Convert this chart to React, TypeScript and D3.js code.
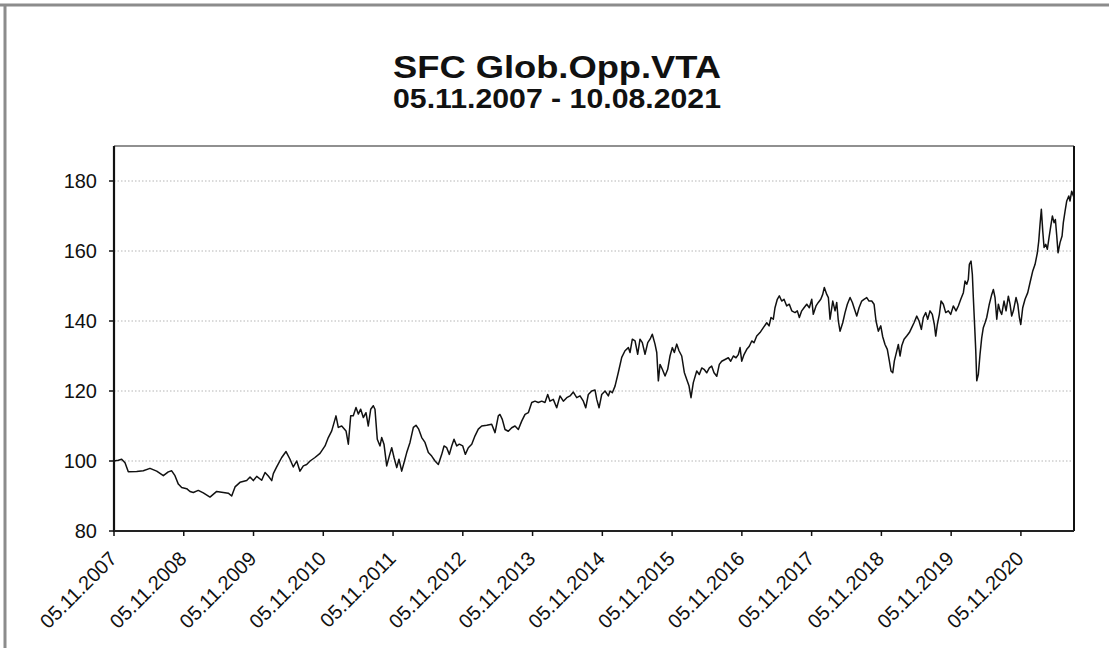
import React from "react";
import * as d3 from "d3";

const TITLE = "SFC Glob.Opp.VTA";
const SUBTITLE = "05.11.2007 - 10.08.2021";

// decimal years (05.11.2007 = 2007.846)
const years: number[] = [
  2007.846, 2007.908, 2007.956, 2008.004, 2008.051, 2008.171, 2008.266, 2008.362, 2008.458, 2008.553,
  2008.624, 2008.673, 2008.720, 2008.768, 2008.816, 2008.888, 2008.935, 2008.983, 2009.054, 2009.126,
  2009.222, 2009.318, 2009.413, 2009.484, 2009.533, 2009.581, 2009.652, 2009.748, 2009.796, 2009.843,
  2009.892, 2009.963, 2010.011, 2010.058, 2010.107, 2010.130, 2010.178, 2010.250, 2010.312, 2010.369,
  2010.416, 2010.465, 2010.512, 2010.560, 2010.608,
  2010.656, 2010.727, 2010.799, 2010.871, 2010.918, 2010.967, 2011.028, 2011.061, 2011.110, 2011.172,
  2011.205, 2011.239, 2011.276, 2011.315, 2011.348, 2011.382, 2011.420, 2011.458, 2011.491, 2011.526,
  2011.563, 2011.587, 2011.620, 2011.659, 2011.683, 2011.716, 2011.755, 2011.792, 2011.827, 2011.860,
  2011.899, 2011.931, 2011.970, 2012.003, 2012.042, 2012.089, 2012.137, 2012.175, 2012.214, 2012.257,
  2012.304, 2012.352, 2012.400, 2012.448, 2012.495, 2012.544, 2012.577, 2012.615, 2012.653, 2012.687,
  2012.720, 2012.759, 2012.796, 2012.845, 2012.882, 2012.925, 2012.974, 2013.021, 2013.068, 2013.117,
  2013.189, 2013.260, 2013.308, 2013.355,
  2013.379, 2013.412, 2013.451, 2013.498, 2013.547, 2013.594, 2013.642, 2013.690, 2013.738, 2013.785,
  2013.834, 2013.881, 2013.928, 2013.977, 2014.024, 2014.063, 2014.096, 2014.143, 2014.192, 2014.239,
  2014.287, 2014.336, 2014.383, 2014.430, 2014.479, 2014.526, 2014.574, 2014.608, 2014.645, 2014.694,
  2014.741, 2014.766, 2014.799, 2014.837, 2014.885, 2014.932, 2014.956, 2014.989, 2015.028, 2015.075,
  2015.124, 2015.171, 2015.219, 2015.243, 2015.276, 2015.315, 2015.353, 2015.386, 2015.419, 2015.458,
  2015.497, 2015.530, 2015.562, 2015.601, 2015.626, 2015.649, 2015.673, 2015.706, 2015.745, 2015.783,
  2015.816, 2015.849, 2015.878, 2015.912, 2015.945, 2015.984, 2016.021, 2016.056, 2016.089, 2016.117,
  2016.150,
  2016.199, 2016.236, 2016.271, 2016.304, 2016.342, 2016.380, 2016.414, 2016.447, 2016.486, 2016.523,
  2016.557, 2016.605, 2016.652, 2016.686, 2016.724, 2016.762, 2016.795, 2016.820, 2016.844, 2016.877,
  2016.916, 2016.953, 2016.988, 2017.020, 2017.059, 2017.106, 2017.154, 2017.203, 2017.236, 2017.264,
  2017.297, 2017.321, 2017.354, 2017.383, 2017.417, 2017.450, 2017.489, 2017.526, 2017.561, 2017.608,
  2017.641, 2017.670, 2017.704, 2017.737, 2017.776, 2017.813, 2017.848, 2017.870, 2017.909, 2017.942,
  2017.977, 2018.005, 2018.028, 2018.063, 2018.086, 2018.110, 2018.149, 2018.182, 2018.206, 2018.229,
  2018.253, 2018.292, 2018.325, 2018.358, 2018.397, 2018.430, 2018.454, 2018.493, 2018.526, 2018.564,
  2018.597, 2018.636, 2018.669, 2018.708, 2018.741, 2018.769, 2018.802, 2018.837,
  2018.865, 2018.898, 2018.931, 2018.960, 2018.984, 2019.009, 2019.032, 2019.066, 2019.089, 2019.113,
  2019.138, 2019.171, 2019.209, 2019.247, 2019.281, 2019.314, 2019.353, 2019.386, 2019.419, 2019.447,
  2019.482, 2019.510, 2019.543, 2019.576, 2019.605, 2019.625, 2019.648, 2019.677, 2019.701, 2019.734,
  2019.768, 2019.806, 2019.840, 2019.877, 2019.916, 2019.949, 2019.984, 2020.021, 2020.045, 2020.070,
  2020.092, 2020.107, 2020.131, 2020.150, 2020.164, 2020.184, 2020.199, 2020.213, 2020.236, 2020.260,
  2020.284, 2020.307, 2020.332, 2020.356, 2020.393, 2020.428, 2020.451, 2020.475, 2020.500, 2020.523,
  2020.547, 2020.571, 2020.604, 2020.633, 2020.666, 2020.690, 2020.714, 2020.738, 2020.776, 2020.801,
  2020.824, 2020.844, 2020.872, 2020.905, 2020.944, 2020.977, 2021.016, 2021.049, 2021.082, 2021.102,
  2021.120, 2021.139, 2021.159, 2021.178, 2021.202, 2021.225, 2021.249, 2021.274, 2021.297, 2021.321,
  2021.340, 2021.360, 2021.378, 2021.407, 2021.436, 2021.454, 2021.479, 2021.503, 2021.532, 2021.550,
  2021.574, 2021.598, 2021.607,
];

const values: number[] = [
  100.0, 100.2, 100.5, 99.5, 96.9, 97.0, 97.2, 97.9, 97.1, 95.8,
  96.9, 97.2, 95.8, 93.4, 92.4, 92.1, 91.3, 91.0, 91.6, 90.9,
  89.7, 91.3, 91.0, 90.8, 90.0, 92.6, 93.9, 94.4, 95.4, 94.4,
  95.6, 94.5, 96.7, 95.7, 94.4, 96.4, 98.3, 101.0, 102.7, 100.5,
  98.3, 100.0, 97.1, 98.6, 99.0,
  100.0, 101.0, 102.2, 104.3, 106.7, 108.6, 112.9, 109.6, 110.0, 108.6,
  104.8, 112.9, 112.9, 115.3, 113.4, 114.8, 112.4, 113.8, 110.0, 114.8,
  115.8, 114.8, 106.2, 104.3, 106.7, 104.8, 98.6, 101.4, 103.8, 101.0,
  98.1, 100.5, 97.1, 99.5, 102.4, 105.3, 109.6, 110.2, 109.1, 106.7,
  105.3, 102.4, 101.4, 100.0, 99.0, 101.9, 104.3, 103.8, 101.9, 104.3,
  106.2, 104.3, 104.8, 104.3, 101.9, 103.8, 104.8, 107.2, 109.1, 110.0,
  110.2, 110.5, 108.1, 112.9,
  113.3, 111.9, 109.0, 108.5, 109.5, 110.0, 109.0, 111.4, 113.3, 113.8,
  116.7, 117.1, 116.7, 117.1, 116.7, 119.0, 117.1, 117.6, 115.2, 118.6,
  117.1, 118.1, 118.6, 119.7, 118.1, 118.6, 117.1, 115.2, 119.0, 120.0,
  120.3, 117.6, 115.2, 119.0, 120.0, 118.6, 120.0, 119.5, 121.4, 125.3,
  129.6, 131.5, 132.4, 131.0, 134.8, 134.3, 130.5, 134.8, 133.8, 130.5,
  133.8, 134.8, 136.2, 133.4, 131.0, 122.9, 127.6, 126.2, 124.3, 126.2,
  130.0, 132.4, 131.0, 133.4, 131.5, 130.0, 125.3, 123.3, 121.4, 118.1,
  122.4,
  125.7, 124.7, 126.6, 126.2, 125.2, 126.6, 127.1, 125.2, 124.2, 127.6,
  128.5, 129.0, 129.5, 128.5, 130.0, 129.5, 130.4, 132.4, 128.5, 130.4,
  131.9, 132.8, 134.3, 133.8, 135.7, 136.7, 138.1, 139.5, 138.6, 141.0,
  140.5, 143.8, 146.2, 147.2, 145.7, 146.2, 144.3, 144.8, 142.9, 142.4,
  142.9, 141.0, 142.9, 143.8, 144.8, 143.8, 146.2, 141.9, 144.3, 145.3,
  146.2, 147.6, 149.6, 147.6, 146.7, 140.5, 145.7, 142.9, 145.3, 140.0,
  137.1, 139.5, 142.4, 144.8, 146.7, 145.3, 143.8, 141.4, 143.8, 145.7,
  146.2, 146.7, 145.7, 145.7, 144.8, 140.0, 137.1, 138.6,
  135.5, 133.3, 131.9, 128.6, 125.7, 125.2, 128.6, 131.4, 133.3, 130.0,
  132.9, 134.8, 135.7, 136.7, 138.1, 139.5, 141.4, 140.0, 137.6, 141.0,
  142.4, 140.5, 142.9, 141.9, 139.0, 135.7, 139.0, 141.9, 145.7, 144.8,
  142.4, 142.9, 141.9, 144.3, 142.9, 144.3, 146.2, 148.1, 151.4, 150.5,
  151.9, 156.2, 157.1, 153.3, 146.7, 138.1, 131.4, 122.9, 124.8, 130.5,
  135.2, 138.1, 139.5, 141.0, 144.8, 147.6, 149.0, 146.7, 140.5, 144.8,
  142.9, 141.9, 145.7, 142.9, 147.1, 144.8, 141.4, 142.9, 146.7, 144.8,
  141.0, 139.0, 143.8, 146.2, 148.1, 151.0, 154.3, 156.2, 159.5, 162.9,
  167.6, 171.9, 165.7, 161.0, 161.9, 160.5, 163.8, 167.1, 170.0, 168.1,
  169.0, 164.3, 159.5, 162.4, 164.3, 168.1, 171.4, 174.3, 175.7, 174.3,
  177.1, 175.7, 176.0,
];

const yTicks: number[] = [80, 100, 120, 140, 160, 180];
const xTickYears: number[] = [2007, 2008, 2009, 2010, 2011, 2012, 2013, 2014, 2015, 2016, 2017, 2018, 2019, 2020];
const xTickLabel = (y: number) => `05.11.${y}`;

const W = 1109;
const H = 648;
const plot = { left: 114, right: 1074, top: 146, bottom: 531 };
const START = 2007.846;
const END = 2021.607;
const FONT = "'Liberation Sans', Arial, sans-serif";

export default function App() {
  const x = d3.scaleLinear().domain([START, END]).range([plot.left, plot.right]);
  const y = d3.scaleLinear().domain([80, 190]).range([plot.bottom, plot.top]);
  const pts: [number, number][] = years.map((t, i) => [t, values[i]]);
  const line = d3
    .line<[number, number]>()
    .x((d) => x(d[0]))
    .y((d) => y(d[1]));

  return (
    <svg
      width={W}
      height={H}
      style={{ position: "absolute", left: 0, top: 0, background: "#fff" }}
      fontFamily={FONT}
    >
      <rect x={0} y={0} width={W} height={H} fill="#fff" />
      {/* outer frame (scan border) */}
      <line x1={0} x2={W} y1={5} y2={5} stroke="#8c8c8c" strokeWidth={3} />
      <line x1={5} x2={5} y1={4} y2={H} stroke="#8c8c8c" strokeWidth={3} />

      <text
        x={557}
        y={78}
        textAnchor="middle"
        fontSize={32}
        fontWeight="bold"
        fill="#111"
        textLength={328}
        lengthAdjust="spacingAndGlyphs"
      >
        {TITLE}
      </text>
      <text
        x={557}
        y={108}
        textAnchor="middle"
        fontSize={27}
        fontWeight="bold"
        fill="#111"
        textLength={328}
        lengthAdjust="spacingAndGlyphs"
      >
        {SUBTITLE}
      </text>

      {/* gridlines */}
      {yTicks
        .filter((v) => v > 80)
        .map((v) => (
          <line
            key={"g" + v}
            x1={plot.left}
            x2={plot.right}
            y1={y(v)}
            y2={y(v)}
            stroke="#b5b5b5"
            strokeWidth={1}
            strokeDasharray="1.5,2"
          />
        ))}

      {/* plot frame */}
      <line x1={plot.left} x2={plot.right} y1={plot.top} y2={plot.top} stroke="#222" strokeWidth={1.2} />
      <line x1={plot.right} x2={plot.right} y1={plot.top} y2={plot.bottom} stroke="#111" strokeWidth={2} />
      <line x1={plot.left} x2={plot.left} y1={plot.top} y2={plot.bottom + 1} stroke="#111" strokeWidth={2.2} />
      <line x1={plot.left} x2={plot.right} y1={plot.bottom} y2={plot.bottom} stroke="#222" strokeWidth={2} />

      {/* y ticks and labels */}
      {yTicks.map((v) => (
        <g key={"y" + v}>
          <line x1={plot.left - 5} x2={plot.left} y1={y(v)} y2={y(v)} stroke="#111" strokeWidth={1.5} />
          <text x={97} y={y(v)} dy="0.36em" textAnchor="end" fontSize={20} fill="#111">
            {v}
          </text>
        </g>
      ))}

      {/* x ticks and labels */}
      {xTickYears.map((yr) => {
        const px = x(yr + 0.846);
        return (
          <g key={"x" + yr}>
            <line x1={px} x2={px} y1={plot.bottom} y2={plot.bottom + 5} stroke="#111" strokeWidth={1.5} />
            <text
              transform={`translate(${px + 4},${560}) rotate(-45)`}
              textAnchor="end"
              fontSize={20}
              fill="#111"
            >
              {xTickLabel(yr)}
            </text>
          </g>
        );
      })}

      {/* series */}
      <path d={line(pts) || ""} fill="none" stroke="#111" strokeWidth={1.5} strokeLinejoin="round" />
    </svg>
  );
}
